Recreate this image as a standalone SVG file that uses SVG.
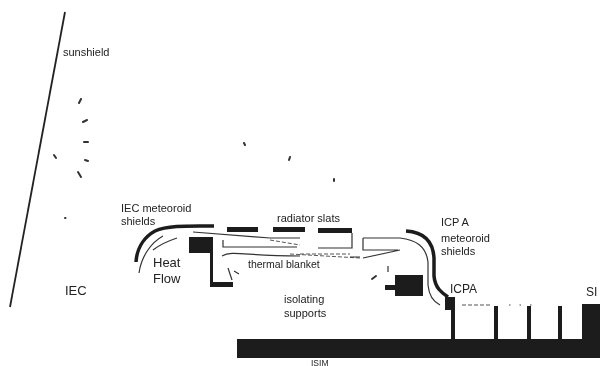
<svg xmlns="http://www.w3.org/2000/svg" width="600" height="366" viewBox="0 0 600 366">
<defs><filter id="b" x="-5%" y="-5%" width="110%" height="110%"><feGaussianBlur stdDeviation="0.5"/></filter></defs>
<style>
.t{font-family:"Liberation Sans",Arial,sans-serif;font-size:11px;fill:#222}
.l{font-size:13px}
.k{fill:#1c1c1c;stroke:none}
.th{fill:none;stroke:#1c1c1c;stroke-width:3.5}
.n{fill:none;stroke:#333;stroke-width:1.2}
.d{fill:none;stroke:#555;stroke-width:1;stroke-dasharray:4 2}
.o{fill:none;stroke:#888;stroke-width:1.5;stroke-dasharray:1.5 9}
.m{fill:none;stroke:#333;stroke-width:2;stroke-linecap:round}
</style>
<rect width="600" height="366" fill="#fff"/>
<g filter="url(#b)">
<g id="connectors">
<path class="m" d="M81 99l-2 4M83 122l4-2M84 142h4M85 160l3 1M78 172l3 5M54 155l2 3M65 218h.5M244 143l1 2M290 157l-1 3M334 179v2"/>
<path class="n" d="M139 273C141 258 150 243 163 236M153 250C158 246 168 241 177 238M193 232L270 238H300"/>
<path class="n" d="M223 240V247H297M222 256C232 250 245 256 300 256M232 280L228 268M234 271L239 274"/>
<path class="d" d="M270 240L300 245M290 254L360 258"/>
<path class="n" d="M363 238H400M363 238V250H398M352 233V248H318M360 257H350M363 258L400 250M388 266V272"/>
<path class="d" d="M462 305H492M300 254H350"/>
<path class="o" d="M509 305H540"/>
<path class="m" d="M372 279L376 276"/>
</g>
<g id="sunshield"><path d="M65 12L10 307" fill="none" stroke="#222" stroke-width="1.8"/><text class="t" x="63" y="56">sunshield</text></g>
<g id="iec"><text class="t l" x="65" y="295">IEC</text></g>
<g id="iec-shield"><path class="th" d="M136 262C137 246 146 236 155 231C168 225 190 226 214 226"/><text class="t" x="121" y="212">IEC meteoroid</text><text class="t" x="121" y="225">shields</text></g>
<g id="heat-flow"><text class="t l" x="153" y="267">Heat</text><text class="t l" x="153" y="283">Flow</text></g>
<g id="iec-block"><path class="k" d="M189 237H213V282H233V287H210V253H189Z"/></g>
<g id="radiator"><text class="t" x="277" y="222">radiator slats</text>
<path class="k" d="M227 227H258V232H227ZM273 227H305V232H273ZM318 228H352V233H318Z"/></g>
<g id="blanket"><text class="t" x="248" y="268" style="font-size:10.5px">thermal blanket</text></g>
<g id="isolating"><text class="t" x="284" y="303">isolating</text><text class="t" x="284" y="317">supports</text></g>
<g id="icpa-shield"><path class="th" d="M406 231C422 232 433 240 434 258V276C435 288 442 293 448 297"/><path class="n" d="M400 238C416 240 426 246 428 262V285C429 296 434 302 440 305"/>
<text class="t" x="441" y="226">ICP A</text><text class="t" x="441" y="242">meteoroid</text><text class="t" x="441" y="255">shields</text></g>
<g id="icpa-block"><path class="k" d="M395 275H423V296H395V290H385V285H395Z"/></g>
<g id="icpa"><text class="t" x="450" y="293" style="font-size:12px">ICPA</text><path class="k" d="M445 297H455V340H451V310H445Z"/></g>
<g id="struts"><path class="k" d="M494 306H498V340H494ZM527 306H531V340H527ZM558 306H562V340H558Z"/></g>
<g id="si"><text class="t" x="586" y="296" style="font-size:12px">SI</text><rect class="k" x="582" y="304" width="18" height="36"/></g>
<g id="isim"><rect class="k" x="237" y="339" width="363" height="19"/><text class="t" x="311" y="365.500" style="font-size:8.500px">ISIM</text></g>
</g>
</svg>
